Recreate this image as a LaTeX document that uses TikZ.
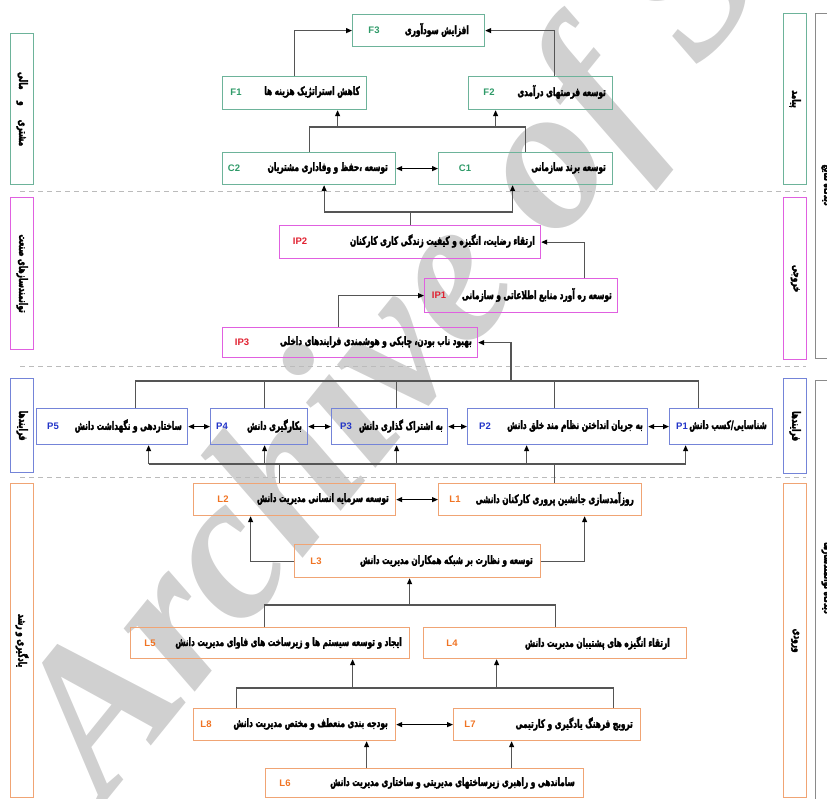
\documentclass[tikz,border=0pt]{standalone}
\usepackage{fontspec}
\setmainfont{Liberation Sans}
\newfontfamily\fa[Script=Arabic, FakeStretch=0.64, BoldFeatures={FakeBold=2.5}]{DejaVu Sans}
\newfontfamily\wmfont{Liberation Serif}
\TeXXeTstate=1
\usetikzlibrary{arrows.meta,calc}
\definecolor{cg}{HTML}{6DB39A}
\definecolor{cgt}{HTML}{2E9A68}
\definecolor{cm}{HTML}{E060E0}
\definecolor{cmt}{HTML}{E02030}
\definecolor{cb}{HTML}{7484D8}
\definecolor{cbt}{HTML}{2234C8}
\definecolor{co}{HTML}{F0A474}
\definecolor{cot}{HTML}{F07424}
\definecolor{cl}{HTML}{555555}
\definecolor{cgr}{HTML}{8A8A8A}
\definecolor{wm}{HTML}{D0D0D0}
\definecolor{dsh}{HTML}{BBBBBB}
\newcommand\ft{\fa\bfseries\fontsize{11.5}{12}\selectfont}
\newcommand\bx[6]{\node[draw=#6, line width=1.2pt, minimum width={#4-#2}, minimum height={#5-#3}, inner sep=0pt, anchor=north west] (#1) at (#2,#3) {};}
\newcommand\tx[4]{\node[anchor=east, inner sep=0pt] (#1) at (#2,#3) {\ft #4};}
\newcommand\lb[5]{\node[anchor=center, inner sep=0pt, text=#5, font=\bfseries\fontsize{9.5}{10}\selectfont] (#1) at (#2,#3) {#4};}
\newcommand\sd[5]{\node[draw=#5, line width=1.2pt, minimum width=23pt, minimum height={#4-#3}, inner sep=0pt, anchor=north west] (#1) at (#2,#3) {};}
\begin{document}
\begin{tikzpicture}[x=1pt,y=-1pt,
  ln/.style={draw=cl, line width=1.1pt},
  ar/.style={draw=cl, line width=1.1pt, -{Triangle[length=6pt,width=5pt,color=black]}},
  dar/.style={draw=black, line width=1.1pt, {Triangle[length=6pt,width=5pt,color=black]}-{Triangle[length=6pt,width=5pt,color=black]}},
  dl/.style={draw=dsh, line width=0.8pt, dash pattern=on 5pt off 4pt},
  rt/.style={rotate=-90, inner sep=0pt}]
\useasboundingbox (0,0) rectangle (827,798);
% watermark
\node[anchor=base west, rotate=51, text=wm, inner sep=0pt, font=\wmfont\bfseries\itshape\fontsize{207}{207}\selectfont] (wmk) at (105,803) {Archive of SID};
% dashed separators
\coordinate (d1a) at (20,191); \coordinate (d1b) at (806,191);
\coordinate (d2a) at (20,366); \coordinate (d2b) at (806,366);
\coordinate (d3a) at (20,477); \coordinate (d3b) at (806,477);
\draw[dl] (d1a) -- (d1b);
\draw[dl] (d2a) -- (d2b);
\draw[dl] (d3a) -- (d3b);
% side boxes left
\sd{sl1}{10}{33}{184}{cg}
\sd{sl2}{10}{197}{349}{cm}
\sd{sl3}{10}{378}{472}{cb}
\sd{sl4}{10}{483}{797}{co}
\node[rt] (tl1) at (sl1.center) {\ft\beginR مشتری \quad و\quad مالی\endR};
\node[rt] (tl2) at (sl2.center) {\ft\beginR توانمندسازهای صنعت\endR};
\node[rt] (tl3) at (sl3.center) {\ft\beginR فرایندها\endR};
\node[rt] (tl4) at (sl4.center) {\ft\beginR یادگیری و رشد\endR};
% side boxes right
\sd{sr1}{783}{13}{184}{cg}
\sd{sr2}{783}{197}{359}{cm}
\sd{sr3}{783}{378}{473}{cb}
\sd{sr4}{783}{483}{797}{co}
\node[rt] (tr1) at (sr1.center) {\ft\beginR پیامد\endR};
\node[rt] (tr2) at (sr2.center) {\ft\beginR خروجی\endR};
\node[rt] (tr3) at (sr3.center) {\ft\beginR فرایندها\endR};
\node[rt] (tr4) at (sr4.center) {\ft\beginR ورودی\endR};
% big perspective boxes
\node[draw=cgr, line width=1.4pt, minimum width=40pt, minimum height=345pt, inner sep=0pt, anchor=north west] (v1) at (815,13) {};
\node[draw=cgr, line width=1.4pt, minimum width=40pt, minimum height=430pt, inner sep=0pt, anchor=north west] (v2) at (815,380) {};
\node[rt] (tv1) at (828,185) {\ft\beginR دیدگاه نتایج\endR};
\node[rt] (tv2) at (828,578) {\ft\beginR دیدگاه توانمندسازها\endR};
% ---------- boxes ----------
\bx{F3}{352}{14}{484}{46}{cg}
\bx{F1}{222}{76}{366}{109}{cg}
\bx{F2}{468}{76}{612}{109}{cg}
\bx{C2}{222}{152}{395}{184}{cg}
\bx{C1}{438}{152}{612}{184}{cg}
\bx{IP2}{279}{225}{540}{258}{cm}
\bx{IP1}{424}{278}{617}{312}{cm}
\bx{IP3}{222}{327}{477}{357}{cm}
\bx{P5}{36}{408}{187}{444}{cb}
\bx{P4}{210}{408}{307}{444}{cb}
\bx{P3}{331}{408}{447}{444}{cb}
\bx{P2}{467}{408}{647}{444}{cb}
\bx{P1}{669}{408}{772}{444}{cb}
\bx{L2}{193}{483}{395}{515}{co}
\bx{L1}{438}{483}{641}{515}{co}
\bx{L3}{294}{544}{540}{577}{co}
\bx{L5}{130}{627}{409}{658}{co}
\bx{L4}{423}{627}{686}{658}{co}
\bx{L8}{193}{708}{395}{740}{co}
\bx{L7}{453}{708}{640}{740}{co}
\bx{L6}{265}{768}{583}{797}{co}
% ---------- texts ----------
\tx{tF3}{469}{30}{\beginR افزایش سودآوری\endR}
\tx{tF1}{360}{92}{\beginR کاهش استراتژیک هزینه ها\endR}
\tx{tF2}{606}{92}{\beginR توسعه فرصتهای درآمدی\endR}
\tx{tC2}{388}{168}{\beginR توسعه ،حفظ و وفاداری مشتریان\endR}
\tx{tC1}{606}{168}{\beginR توسعه برند سازمانی\endR}
\tx{tIP2}{535}{241}{\beginR ارتقاء رضایت، انگیزه و کیفیت زندگی کاری کارکنان\endR}
\tx{tIP1}{612}{295}{\beginR توسعه ره آورد منابع اطلاعاتی و سازمانی\endR}
\tx{tIP3}{472}{342}{\beginR بهبود ناب بودن، چابکی و هوشمندی فرایندهای داخلی\endR}
\tx{tP5}{182}{426}{\beginR ساختاردهی و نگهداشت دانش\endR}
\tx{tP4}{302}{426}{\beginR بکارگیری دانش\endR}
\tx{tP3}{443}{426}{\beginR به اشتراک گذاری دانش\endR}
\tx{tP2}{643}{426}{\beginR به جریان انداختن نظام مند خلق دانش\endR}
\tx{tP1}{767}{426}{\beginR شناسایی/کسب دانش\endR}
\tx{tL2}{389}{499}{\beginR توسعه سرمایه انسانی مدیریت دانش\endR}
\tx{tL1}{634}{499}{\beginR روزآمدسازی جانشین پروری کارکنان دانشی\endR}
\tx{tL3}{533}{561}{\beginR توسعه و نظارت بر شبکه همکاران مدیریت دانش\endR}
\tx{tL5}{402}{643}{\beginR ایجاد و توسعه سیستم ها و زیرساخت های فاوای مدیریت دانش\endR}
\tx{tL4}{670}{643}{\beginR ارتقاء انگیزه های پشتیبان مدیریت دانش\endR}
\tx{tL8}{388}{724}{\beginR بودجه بندی منعطف و مختص مدیریت دانش\endR}
\tx{tL7}{633}{724}{\beginR ترویج فرهنگ یادگیری و کارتیمی\endR}
\tx{tL6}{575}{783}{\beginR ساماندهی و راهبری زیرساختهای مدیریتی و ساختاری مدیریت دانش\endR}
% ---------- labels ----------
\lb{lF3}{374}{30}{F3}{cgt}
\lb{lF1}{236}{92}{F1}{cgt}
\lb{lF2}{489}{92}{F2}{cgt}
\lb{lC2}{234}{168}{C2}{cgt}
\lb{lC1}{465}{168}{C1}{cgt}
\lb{lIP2}{300}{241}{IP2}{cmt}
\lb{lIP1}{439}{295}{IP1}{cmt}
\lb{lIP3}{242}{342}{IP3}{cmt}
\lb{lP5}{53}{426}{P5}{cbt}
\lb{lP4}{222}{426}{P4}{cbt}
\lb{lP3}{346}{426}{P3}{cbt}
\lb{lP2}{485}{426}{P2}{cbt}
\lb{lP1}{682}{426}{P1}{cbt}
\lb{lL2}{223}{499}{L2}{cot}
\lb{lL1}{455}{499}{L1}{cot}
\lb{lL3}{316}{561}{L3}{cot}
\lb{lL5}{150}{643}{L5}{cot}
\lb{lL4}{452}{643}{L4}{cot}
\lb{lL8}{206}{724}{L8}{cot}
\lb{lL7}{470}{724}{L7}{cot}
\lb{lL6}{285}{783}{L6}{cot}
% ---------- connectors ----------
\draw[ar] (F1.north) |- (F3.west);
\draw[ar] ([xshift=14pt]F2.north) |- (F3.east);
\coordinate (bCF) at (308,127);
\draw[ln] (C2.north) |- (bCF -| C1.north) -- (C1.north);
\draw[ar] ([xshift=43pt]F1.south |- bCF) -- ([xshift=43pt]F1.south);
\draw[ar] ([xshift=-45pt]F2.south |- bCF) -- ([xshift=-45pt]F2.south);
\draw[dar] (C2.east) -- (C1.west);
\coordinate (bIC) at (409,212);
\draw[ln] (IP2.north) -- (IP2.north |- bIC);
\draw[ln] ([xshift=15pt]C2.south |- bIC) -- ([xshift=-13pt]C1.south |- bIC);
\draw[ar] ([xshift=15pt]C2.south |- bIC) -- ([xshift=15pt]C2.south);
\draw[ar] ([xshift=-13pt]C1.south |- bIC) -- ([xshift=-13pt]C1.south);
\draw[ar] ([xshift=63pt]IP1.north) |- (IP2.east);
\draw[ar] ([xshift=-12pt]IP3.north) |- (IP1.west);
\coordinate (tb) at (511,381);
\draw[ln] ([xshift=23.5pt]P5.north) |- ([xshift=-22.5pt]P1.north |- tb) -- ([xshift=-22.5pt]P1.north);
\draw[ln] ([xshift=5.5pt]P4.north) -- ([xshift=5.5pt]P4.north |- tb);
\draw[ln] ([xshift=7pt]P3.north) -- ([xshift=7pt]P3.north |- tb);
\draw[ln] ([xshift=-3pt]P2.north) -- ([xshift=-3pt]P2.north |- tb);
\draw[ar] (tb) |- (IP3.east);
\draw[dar] (P5.east) -- (P4.west);
\draw[dar] (P4.east) -- (P3.west);
\draw[dar] (P3.east) -- (P2.west);
\draw[dar] (P2.east) -- (P1.west);
\coordinate (bb) at (279,464);
\draw[ln] ([xshift=36.5pt]P5.south |- bb) -- ([xshift=-35.5pt]P1.south |- bb);
\draw[ar] ([xshift=36.5pt]P5.south |- bb) -- ([xshift=36.5pt]P5.south);
\draw[ar] ([xshift=5.5pt]P4.south |- bb) -- ([xshift=5.5pt]P4.south);
\draw[ar] ([xshift=7pt]P3.south |- bb) -- ([xshift=7pt]P3.south);
\draw[ar] ([xshift=-31pt]P2.south |- bb) -- ([xshift=-31pt]P2.south);
\draw[ar] ([xshift=-35.5pt]P1.south |- bb) -- ([xshift=-35.5pt]P1.south);
\draw[ln] ([xshift=-15pt]L2.north) -- ([xshift=-15pt]L2.north |- bb);
\draw[ln] ([xshift=14.5pt]L1.north) -- ([xshift=14.5pt]L1.north |- bb);
\draw[dar] (L2.east) -- (L1.west);
\draw[ar] (L3.west) -| ([xshift=-44pt]L2.south);
\draw[ar] (L3.east) -| ([xshift=44.5pt]L1.south);
\coordinate (b3) at (409,605);
\draw[ln] ([xshift=-5.5pt]L5.north) |- (L4.north |- b3) -- (L4.north);
\draw[ar] ([xshift=-8pt]L3.south |- b3) -- ([xshift=-8pt]L3.south);
\coordinate (b4) at (236,688);
\draw[ln] ([xshift=-58pt]L8.north) |- ([xshift=66.5pt]L7.north |- b4) -- ([xshift=66.5pt]L7.north);
\draw[ar] ([xshift=82.5pt]L5.south |- b4) -- ([xshift=82.5pt]L5.south);
\draw[ar] ([xshift=-58.5pt]L4.south |- b4) -- ([xshift=-58.5pt]L4.south);
\draw[dar] (L8.east) -- (L7.west);
\draw[ar] ([xshift=72pt]L8.south |- L6.north) -- ([xshift=72pt]L8.south);
\draw[ar] ([xshift=-35.5pt]L7.south |- L6.north) -- ([xshift=-35.5pt]L7.south);
\end{tikzpicture}
\end{document}
